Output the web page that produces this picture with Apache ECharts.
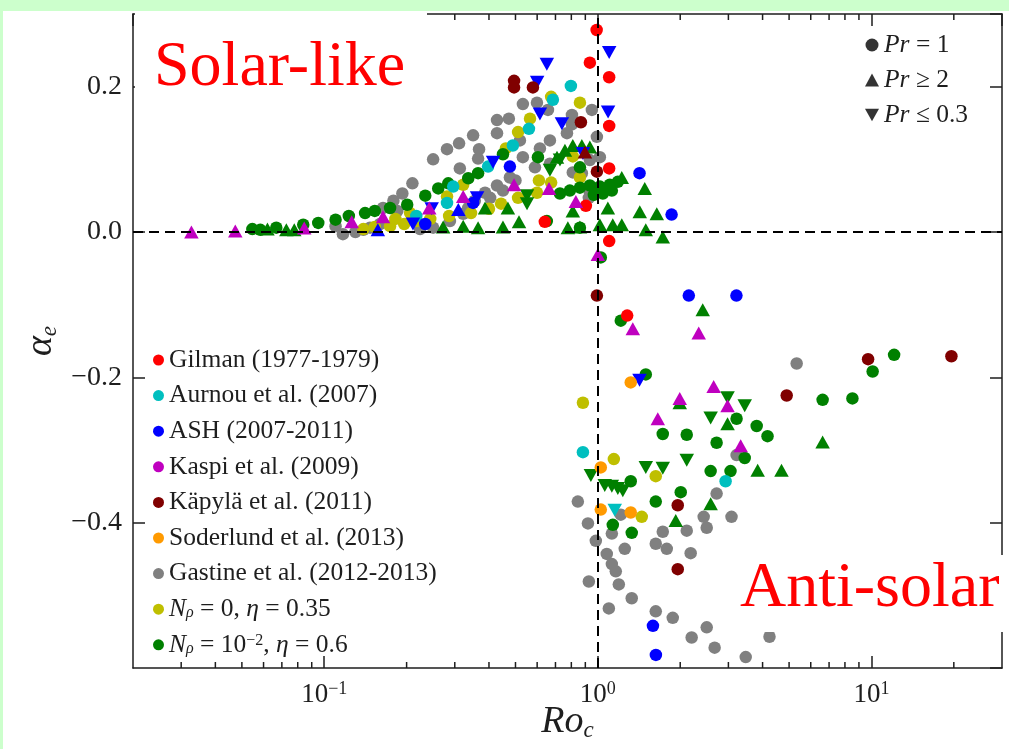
<!DOCTYPE html>
<html>
<head>
<meta charset="utf-8">
<script src="https://cdn.jsdelivr.net/npm/echarts@6/dist/echarts.min.js"></script>
<style>
  html, body { margin: 0; padding: 0; background: #ffffff; }
  #chart { width: 1009px; height: 749px; }
</style>
</head>
<body>
<div id="chart"></div>
<script>
// Differential rotation alpha_e versus convective Rossby number Ro_c.
// Each point: [Ro_c, alpha_e, shape]  shape 0 = Pr = 1 (circle), 1 = Pr >= 2 (up), 2 = Pr <= 0.3 (down)

const gilman = [
  [0.99, 0.278, 0], [0.935, 0.233, 0], [1.10, 0.213, 0], [1.10, 0.146, 0], [1.10, 0.0875, 0],
  [0.904, 0.036, 0], [0.64, 0.014, 0], [1.10, -0.0125, 0], [1.28, -0.115, 0]
];

const aurnou = [
  [0.797, 0.201, 0], [0.685, 0.182, 0], [0.56, 0.142, 0], [0.489, 0.119, 0], [0.397, 0.090, 0],
  [0.296, 0.0625, 0], [0.281, 0.040, 0], [0.217, 0.022, 0], [0.882, -0.303, 0], [2.93, -0.343, 0],
  [1.153, -0.383, 2]
];

const ash = [
  [1.10, 0.247, 2], [0.651, 0.231, 2], [0.60, 0.206, 2], [0.614, 0.1625, 2], [1.09, 0.165, 2],
  [0.739, 0.149, 2], [0.882, 0.108, 2], [0.477, 0.090, 0], [0.414, 0.096, 2], [1.42, 0.081, 0],
  [1.86, 0.024, 0], [0.362, 0.047, 2], [0.35, 0.040, 0], [0.309, 0.031, 1], [0.247, 0.032, 2],
  [0.234, 0.011, 0], [0.211, 0.011, 2], [0.157, 0.003, 1], [2.15, -0.0875, 0], [3.21, -0.0875, 0],
  [1.42, -0.204, 2], [1.59, -0.542, 0], [1.63, -0.582, 0]
];

const kaspi = [
  [0.0327, 0.0, 1], [0.0473, 0.0014, 1], [0.0845, 0.0056, 1], [0.126, 0.014, 1], [0.164, 0.021, 1],
  [0.242, 0.033, 1], [0.322, 0.049, 1], [0.494, 0.065, 1], [0.663, 0.060, 1], [0.831, 0.042, 1],
  [1.0, -0.031, 1], [1.342, -0.133, 1], [2.337, -0.139, 1], [2.65, -0.2125, 1], [1.992, -0.229, 1],
  [2.979, -0.239, 1], [1.656, -0.257, 1], [3.327, -0.294, 1]
];

const kapyla = [
  [0.494, 0.208, 0], [0.494, 0.199, 0], [0.579, 0.199, 0], [0.867, 0.151, 0], [0.897, 0.110, 1],
  [0.992, 0.083, 0], [0.992, -0.0875, 0], [4.90, -0.225, 0], [1.959, -0.376, 0], [1.959, -0.464, 0],
  [9.72, -0.175, 0], [19.6, -0.171, 0]
];

const soderlund = [
  [1.319, -0.207, 0], [1.025, -0.324, 0], [1.025, -0.382, 0], [1.319, -0.386, 0]
];

const gastine = [
  [0.117, -0.003, 0], [0.130, 0.0, 0], [0.139, 0.003, 0], [0.147, 0.006, 0], [0.160, 0.011, 0],
  [0.110, 0.008, 0], [0.164, 0.033, 0], [0.179, 0.043, 0], [0.185, 0.029, 0], [0.193, 0.053, 0],
  [0.210, 0.067, 0], [0.250, 0.100, 0], [0.281, 0.114, 0], [0.311, 0.122, 0], [0.350, 0.133, 0],
  [0.428, 0.154, 0], [0.473, 0.156, 0], [0.532, 0.176, 0], [0.599, 0.178, 0], [0.657, 0.168, 0],
  [0.804, 0.161, 0], [0.951, 0.168, 0], [0.771, 0.136, 0], [0.668, 0.126, 0], [0.614, 0.115, 0],
  [0.428, 0.136, 0], [0.368, 0.114, 0], [0.365, 0.101, 0], [0.313, 0.0875, 0], [0.532, 0.103, 0],
  [0.477, 0.075, 0], [0.668, 0.094, 0], [0.589, 0.089, 0], [0.428, 0.064, 0], [0.387, 0.054, 0],
  [0.355, 0.043, 0], [0.336, 0.033, 0], [0.322, 0.025, 0], [0.288, 0.015, 0], [0.250, 0.006, 0],
  [0.224, 0.004, 0], [0.992, 0.131, 0], [1.017, 0.103, 0], [0.935, 0.099, 0], [0.935, 0.054, 0],
  [0.927, 0.047, 0], [0.81, 0.082, 0], [0.874, 0.081, 0], [0.519, 0.126, 0], [0.404, 0.047, 0],
  [0.45, 0.057, 0], [0.5, 0.071, 0], [0.804, 0.148, 0],
  [0.845, -0.371, 0], [0.92, -0.401, 0], [0.983, -0.425, 0], [1.078, -0.443, 0], [1.125, -0.457, 0],
  [1.163, -0.467, 0], [0.927, -0.481, 0], [1.193, -0.485, 0], [1.33, -0.504, 0], [1.097, -0.518, 0],
  [1.628, -0.522, 0], [1.878, -0.531, 0], [2.50, -0.544, 0], [2.202, -0.558, 0], [2.672, -0.572, 0],
  [3.471, -0.585, 0], [1.254, -0.436, 0], [1.125, -0.415, 0], [1.727, -0.4125, 0], [1.628, -0.429, 0],
  [1.786, -0.436, 0], [2.113, -0.411, 0], [2.184, -0.442, 0], [2.437, -0.392, 0], [2.50, -0.407, 0],
  [2.717, -0.360, 0], [3.08, -0.392, 0], [3.214, -0.307, 0], [1.213, -0.389, 0], [5.33, -0.181, 0],
  [4.24, -0.557, 0]
];

const nrho0 = [
  [0.675, 0.186, 0], [0.86, 0.178, 0], [0.565, 0.156, 0], [0.511, 0.1375, 0], [0.461, 0.115, 0],
  [0.322, 0.065, 0], [0.281, 0.049, 0], [0.609, 0.071, 0], [0.675, 0.068, 0], [0.86, 0.075, 0],
  [0.81, 0.104, 0], [0.599, 0.054, 0], [0.511, 0.047, 0], [0.443, 0.039, 0], [0.40, 0.032, 0],
  [0.344, 0.026, 0], [0.286, 0.022, 0], [0.244, 0.018, 0], [0.218, 0.015, 0], [0.196, 0.011, 0],
  [0.174, 0.008, 0], [0.153, 0.007, 0], [0.139, 0.004, 0], [0.182, 0.018, 0], [0.206, 0.026, 0],
  [0.882, -0.235, 0], [1.144, -0.3125, 0], [1.628, -0.336, 0], [1.447, -0.392, 0]
];

const nrho1 = [
  // Pr = 1
  [0.0546, 0.004, 0], [0.0584, 0.003, 0], [0.0668, 0.006, 0], [0.0838, 0.010, 0], [0.0951, 0.0125, 0],
  [0.110, 0.017, 0], [0.123, 0.022, 0], [0.141, 0.026, 0], [0.153, 0.029, 0], [0.174, 0.033, 0],
  [0.201, 0.0375, 0], [0.234, 0.050, 0], [0.261, 0.060, 0], [0.284, 0.067, 0], [0.336, 0.074, 0],
  [0.365, 0.081, 0], [0.45, 0.107, 0], [0.604, 0.103, 0], [0.86, 0.089, 0], [0.86, 0.006, 0],
  [0.651, 0.015, 0], [0.727, 0.053, 0], [0.79, 0.057, 0], [0.86, 0.061, 0], [0.935, 0.064, 0],
  [1.017, 0.0625, 0], [1.106, 0.065, 0], [1.183, 0.069, 0], [1.043, 0.053, 0], [1.125, 0.057, 0],
  [0.967, 0.051, 0],
  [1.025, -0.035, 0], [1.213, -0.122, 0], [1.497, -0.196, 0], [3.214, -0.257, 0], [3.806, -0.267, 0],
  [4.17, -0.281, 0], [1.727, -0.278, 0], [2.113, -0.279, 0], [2.717, -0.290, 0], [3.442, -0.311, 0],
  [2.584, -0.329, 0], [3.054, -0.329, 0], [1.319, -0.343, 0], [1.628, -0.371, 0], [2.009, -0.358, 0],
  [1.134, -0.403, 0], [1.33, -0.414, 0], [6.63, -0.231, 0], [8.52, -0.229, 0], [10.1, -0.192, 0],
  [12.1, -0.169, 0],
  // Pr >= 2
  [0.062, 0.004, 1], [0.0727, 0.003, 1], [0.0777, 0.003, 1], [0.272, 0.007, 1], [0.322, 0.008, 1],
  [0.365, 0.006, 1], [0.45, 0.007, 1], [0.515, 0.014, 1], [0.777, 0.006, 1], [0.86, 0.007, 1],
  [1.017, 0.010, 1], [1.134, 0.010, 1], [1.223, 0.010, 1], [1.497, 0.003, 1], [1.727, -0.007, 1],
  [1.423, 0.028, 1], [1.642, 0.025, 1], [1.484, 0.060, 1], [1.223, 0.075, 1], [1.088, 0.033, 1],
  [0.387, 0.033, 1], [0.469, 0.033, 1], [0.81, 0.029, 1], [0.874, 0.119, 1], [0.81, 0.119, 1],
  [0.758, 0.1125, 1], [0.709, 0.103, 1], [0.935, 0.117, 1],
  [2.417, -0.107, 1], [1.992, -0.235, 1], [2.979, -0.264, 1], [3.838, -0.328, 1], [4.69, -0.328, 1],
  [2.584, -0.374, 1], [1.926, -0.397, 1], [6.63, -0.289, 1],
  // Pr <= 0.3
  [0.668, 0.085, 2], [0.551, 0.050, 2], [0.551, 0.039, 2], [0.727, 0.099, 2],
  [2.979, -0.228, 2], [3.442, -0.239, 2], [2.584, -0.256, 2], [2.113, -0.314, 2], [1.497, -0.324, 2],
  [1.727, -0.325, 2], [0.943, -0.335, 2], [1.06, -0.349, 2], [1.125, -0.35, 2], [1.183, -0.353, 2],
  [1.234, -0.356, 2]
];

// minor tick positions of the logarithmic Ro_c axis
const minorTicks = [0.03, 0.04, 0.05, 0.06, 0.07, 0.08, 0.09,
  0.2, 0.3, 0.4, 0.5, 0.6, 0.7, 0.8, 0.9,
  2, 3, 4, 5, 6, 7, 8, 9, 20];

const SERIF = "'Liberation Serif', 'DejaVu Serif', serif";
const INK = '#1e1e1e';
const DOWN = 'path://M0,0L10,0L5,9Z';
const SHAPES = ['circle', 'triangle', DOWN];
const SIZES = [12.5, [14.5, 13], [14.5, 13]];

function scatter(name, data, color) {
  return {
    name: name,
    type: 'scatter',
    data: data,
    symbol: function (v) { return SHAPES[v[2]]; },
    symbolSize: function (v) { return SIZES[v[2]]; },
    itemStyle: { color: color, opacity: 1 },
    silent: true,
    animation: false
  };
}

const sources = [
  { name: 'Gilman (1977-1979)', data: gilman, color: '#ff0000' },
  { name: 'Aurnou et al. (2007)', data: aurnou, color: '#00bfbf' },
  { name: 'ASH (2007-2011)', data: ash, color: '#0000ff' },
  { name: 'Kaspi et al. (2009)', data: kaspi, color: '#bf00bf' },
  { name: 'Käpylä et al. (2011)', data: kapyla, color: '#800000' },
  { name: 'Soderlund et al. (2013)', data: soderlund, color: '#ff9a00' },
  { name: 'Gastine et al. (2012-2013)', data: gastine, color: '#808080' },
  { name: 'Nrho0', data: nrho0, color: '#bfbf00' },
  { name: 'Nrho1', data: nrho1, color: '#008000' }
];

const legendLabels = {
  'Nrho0': '{it|N}{sub|ρ} = 0, {it|η} = 0.35',
  'Nrho1': '{it|N}{sub|ρ} = 10{sup|−2}, {it|η} = 0.6',
  'Pr1': '{it|Pr} = 1',
  'Pr2': '{it|Pr} ≥ 2',
  'Pr03': '{it|Pr} ≤ 0.3'
};

const richText = {
  it: { fontFamily: SERIF, fontStyle: 'italic', fontSize: 25.5, lineHeight: 24, color: INK },
  sub: { fontFamily: SERIF, fontStyle: 'italic', fontSize: 16, lineHeight: 14, verticalAlign: 'bottom', color: INK },
  sup: { fontFamily: SERIF, fontSize: 16, lineHeight: 14, verticalAlign: 'top', color: INK }
};

// simulations underneath, literature points on top
const drawOrder = [6, 7, 8, 0, 1, 2, 3, 4, 5];
const series = drawOrder.map(function (i) {
  return scatter(sources[i].name, sources[i].data, sources[i].color);
});

// dashed reference lines alpha_e = 0 and Ro_c = 1
series[0].markLine = {
  silent: true,
  animation: false,
  symbol: ['none', 'none'],
  label: { show: false },
  lineStyle: { color: '#000', type: [10, 6], width: 2 },
  emphasis: { disabled: true },
  data: [{ xAxis: 1 }, { yAxis: 0 }]
};

// Pr key entries
series.push({ name: 'Pr1', type: 'scatter', data: [], itemStyle: { color: '#000' } });
series.push({ name: 'Pr2', type: 'scatter', data: [], itemStyle: { color: '#000' } });
series.push({ name: 'Pr03', type: 'scatter', data: [], itemStyle: { color: '#000' } });

// minor ticks on bottom and top edges of the log axis
series.push({
  type: 'custom',
  silent: true,
  animation: false,
  z: 6,
  data: minorTicks.map(function (v) { return [v, 0]; }),
  renderItem: function (params, api) {
    const x = api.coord([api.value(0), 0])[0];
    const cs = params.coordSys;
    const st = { stroke: INK, lineWidth: 1.5 };
    return {
      type: 'group',
      children: [
        { type: 'line', shape: { x1: x, y1: cs.y + cs.height, x2: x, y2: cs.y + cs.height - 6 }, style: st },
        { type: 'line', shape: { x1: x, y1: cs.y, x2: x, y2: cs.y + 6 }, style: st }
      ]
    };
  }
});

function powLabel(v) {
  const e = Math.round(Math.log10(v));
  if (Math.abs(v - Math.pow(10, e)) / v > 1e-6) return '';
  return '{b|10}{sup|' + (e < 0 ? '−' + (-e) : e) + '}';
}

const axisLineStyle = { color: INK, width: 1.5 };

const option = {
  backgroundColor: '#ffffff',
  animation: false,
  grid: { left: 133, right: 7, top: 14, bottom: 81, containLabel: false, outerBoundsMode: 'none' },
  xAxis: [
    {
      type: 'log', logBase: 10, min: 0.02, max: 30, position: 'bottom',
      axisLine: { show: true, onZero: false, lineStyle: axisLineStyle },
      axisTick: { show: true, inside: true, length: 12, lineStyle: axisLineStyle },
      splitLine: { show: false },
      axisLabel: {
        show: true, margin: 12, showMinLabel: false, showMaxLabel: false,
        formatter: powLabel,
        rich: {
          b: { fontFamily: SERIF, fontSize: 27, lineHeight: 30, color: INK },
          sup: { fontFamily: SERIF, fontSize: 18, lineHeight: 16, verticalAlign: 'top', color: INK }
        }
      },
      name: 'Ro{sub|c}', nameLocation: 'middle', nameGap: 34, nameMoveOverlap: false,
      nameTextStyle: {
        fontFamily: SERIF, fontStyle: 'italic', fontSize: 38, lineHeight: 40, color: INK,
        rich: { sub: { fontFamily: SERIF, fontStyle: 'italic', fontSize: 23, lineHeight: 22, verticalAlign: 'bottom', color: INK } }
      }
    },
    {
      type: 'log', logBase: 10, min: 0.02, max: 30, position: 'top',
      axisLine: { show: true, onZero: false, lineStyle: axisLineStyle },
      axisTick: { show: true, inside: true, length: 12, lineStyle: axisLineStyle },
      axisLabel: { show: false },
      splitLine: { show: false }
    }
  ],
  yAxis: [
    {
      type: 'value', min: -0.6, max: 0.3, interval: 0.2, position: 'left',
      axisLine: { show: true, onZero: false, lineStyle: axisLineStyle },
      axisTick: { show: true, inside: true, length: 12, lineStyle: axisLineStyle },
      splitLine: { show: false },
      axisLabel: {
        show: true, margin: 11, showMinLabel: false, showMaxLabel: false,
        fontFamily: SERIF, fontSize: 28, color: INK,
        formatter: function (v) {
          const s = Math.abs(v).toFixed(1);
          return v < -1e-9 ? '−' + s : s;
        }
      },
      name: 'α{sub|e}', nameLocation: 'middle', nameGap: 72, nameRotate: 90, nameMoveOverlap: false,
      nameTextStyle: {
        fontFamily: SERIF, fontStyle: 'italic', fontSize: 38, lineHeight: 40, color: INK,
        rich: { sub: { fontFamily: SERIF, fontStyle: 'italic', fontSize: 23, lineHeight: 22, verticalAlign: 'bottom', color: INK } }
      }
    },
    {
      type: 'value', min: -0.6, max: 0.3, interval: 0.2, position: 'right',
      axisLine: { show: true, onZero: false, lineStyle: axisLineStyle },
      axisTick: { show: true, inside: true, length: 12, lineStyle: axisLineStyle },
      axisLabel: { show: false },
      splitLine: { show: false }
    }
  ],
  legend: [
    {
      orient: 'vertical', left: 153, top: 347, padding: 0,
      itemWidth: 11, itemHeight: 11, itemGap: 9.6,
      selectedMode: false,
      icon: 'circle',
      data: sources.map(function (s) { return s.name; }),
      formatter: function (name) { return legendLabels[name] || name; },
      textStyle: { fontFamily: SERIF, fontSize: 25.5, lineHeight: 24, color: INK, rich: richText }
    },
    {
      orient: 'vertical', left: 865, top: 32, padding: 0,
      itemWidth: 14, itemHeight: 13, itemGap: 9,
      selectedMode: false,
      data: [
        { name: 'Pr1', icon: 'circle' },
        { name: 'Pr2', icon: 'triangle' },
        { name: 'Pr03', icon: DOWN }
      ],
      formatter: function (name) { return legendLabels[name]; },
      textStyle: { fontFamily: SERIF, fontSize: 25.5, lineHeight: 24, color: INK, rich: richText }
    }
  ],
  graphic: {
    elements: [
      { type: 'rect', z: 50, silent: true, shape: { x: 0, y: 0, width: 1009, height: 11 }, style: { fill: '#ccffcc' } },
      { type: 'rect', z: 50, silent: true, shape: { x: 0, y: 0, width: 3, height: 749 }, style: { fill: '#ccffcc' } },
      { type: 'rect', z: 50, silent: true, shape: { x: 135, y: 11, width: 292, height: 95 }, style: { fill: '#ffffff' } },
      {
        type: 'text', z: 51, silent: true, x: 154, y: 68,
        style: { text: 'Solar-like', fill: '#ff0000', font: "64px 'Liberation Serif', serif", verticalAlign: 'middle', align: 'left' }
      },
      { type: 'rect', z: 50, silent: true, shape: { x: 735, y: 555, width: 274, height: 77 }, style: { fill: '#ffffff' } },
      {
        type: 'text', z: 51, silent: true, x: 740, y: 589,
        style: { text: 'Anti-solar', fill: '#ff0000', font: "64px 'Liberation Serif', serif", verticalAlign: 'middle', align: 'left' }
      }
    ]
  },
  series: series
};

const chart = echarts.init(document.getElementById('chart'), null, { renderer: 'canvas' });
chart.setOption(option);
</script>
</body>
</html>
